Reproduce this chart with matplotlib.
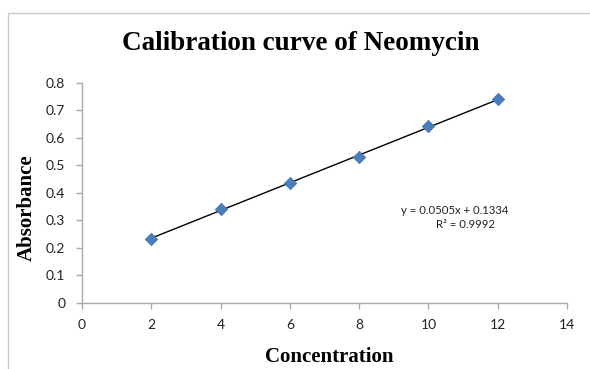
import matplotlib
matplotlib.use("Agg")
import matplotlib.pyplot as plt
from matplotlib.patches import Rectangle
import numpy as np

# Calibration data
concentration = [2, 4, 6, 8, 10, 12]
absorbance = [0.23, 0.34, 0.437, 0.53, 0.645, 0.74]

# Linear trendline coefficients
slope = 0.0505
intercept = 0.1334
r_squared = 0.9992

x_ticks = [0, 2, 4, 6, 8, 10, 12, 14]
y_ticks = [0, 0.1, 0.2, 0.3, 0.4, 0.5, 0.6, 0.7, 0.8]

W, H = 590, 369
fig = plt.figure(figsize=(W / 100, H / 100), dpi=100)
fig.patch.set_facecolor("white")

# chart area border
fig.patches.append(Rectangle((8 / W, -0.1), 1.2, (H - 13) / H + 0.1,
                             transform=fig.transFigure, fill=False,
                             edgecolor="#c8c8c8", linewidth=1.0))

ax = fig.add_axes([82 / W, 1 - 302.5 / H, (567 - 82) / W, (302.5 - 83) / H])

xs = np.array([concentration[0], concentration[-1]])
ax.plot(xs, slope * xs + intercept, color="black", linewidth=1.0, zorder=2)
ax.scatter(concentration, absorbance, marker="D", s=40, color="#4a7ebb",
           edgecolors="#3d6fae", linewidths=0.5, zorder=3)

ax.set_xlim(0, 14)
ax.set_ylim(0, 0.8)
ax.set_xticks(x_ticks)
ax.set_yticks(y_ticks)
ax.set_xticklabels([str(t) for t in x_ticks])
ax.set_yticklabels(["0" if t == 0 else f"{t:.1f}" for t in y_ticks])

for s in ["top", "right"]:
    ax.spines[s].set_visible(False)
for s in ["left", "bottom"]:
    ax.spines[s].set_color("#aaaaaa")
    ax.spines[s].set_linewidth(1.0)

ax.tick_params(axis="both", direction="out", length=4, width=1.0,
               color="#aaaaaa", labelsize=10, labelcolor="#222222")
ax.tick_params(axis="y", pad=8)
ax.tick_params(axis="x", pad=8)
for lab in ax.get_xticklabels() + ax.get_yticklabels():
    lab.set_family("Lato")

ax.text(455 / W, 1 - 211 / H, f"y = {slope}x + {intercept}",
        transform=fig.transFigure, ha="center", va="center",
        fontsize=8.2, family="Lato", color="#222222")
ax.text(465 / W, 1 - 224 / H, f"R² = {r_squared}",
        transform=fig.transFigure, ha="center", va="center",
        fontsize=8.2, family="Lato", color="#222222")

fig.text(301 / W, 1 - 43 / H, "Calibration curve of Neomycin",
         ha="center", va="center", fontsize=19.5, fontweight="bold",
         family="Liberation Serif")
fig.text(329 / W, 1 - 357 / H, "Concentration",
         ha="center", va="center", fontsize=15, fontweight="bold",
         family="Liberation Serif")
fig.text(27 / W, 1 - 208 / H, "Absorbance", rotation=90,
         ha="center", va="center", fontsize=15, fontweight="bold",
         family="Liberation Serif")

fig.savefig("out.png", dpi=100)
